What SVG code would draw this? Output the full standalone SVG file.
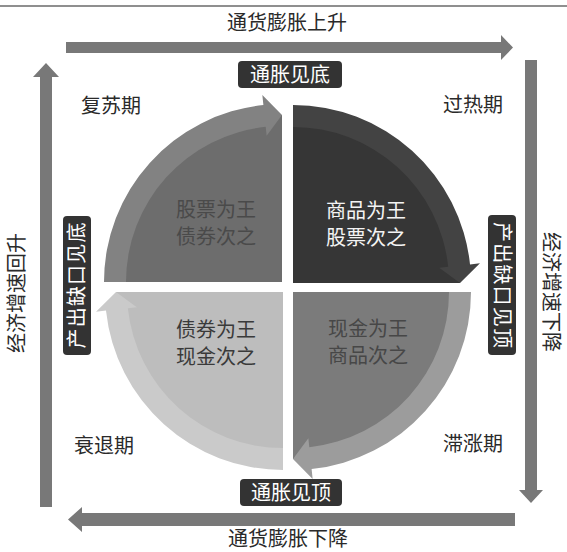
<svg xmlns="http://www.w3.org/2000/svg" width="567" height="552" viewBox="0 0 567 552">
<defs>
<style>
text{font-family:"Noto Sans CJK SC","Noto Sans CJK TC",sans-serif;}
.t{font-size:20px;fill:#2a2a2a;text-anchor:middle;}
.q{font-size:20px;text-anchor:middle;}
.w{font-size:20px;fill:#ffffff;text-anchor:middle;}
.box{fill:#333333;}
.arr{fill:#787878;}
</style>
<path id="ring" d="M-178,0 A178,178 0 0 1 -18.61,-177.02 L-19.65,-186.97 L0,-167 L-15.37,-146.19 L-16.31,-155.15 A156,156 0 0 0 -156,0 Z"/>
<path id="body" d="M0,0 L-167,0 A167,167 0 0 1 0,-167 Z"/>
</defs>
<rect width="567" height="552" fill="#ffffff"/>
<line x1="0" y1="6" x2="567" y2="6" stroke="#6a6a6a" stroke-width="1.5"/>

<g id="connectors">
<polygon class="arr" points="66,42 501,42 501,35 513,47.5 501,60 501,53 66,53"/>
<polygon class="arr" points="525,60 537,60 537,490 543,490 531,503 519,490 525,490"/>
<polygon class="arr" points="515,513 515,526 82,526 82,532 68,519.5 82,507 82,513"/>
<polygon class="arr" points="40,507 52,507 52,77 59,77 46,63 33,77 40,77"/>
</g>

<g id="q-tl">
<use href="#body" transform="translate(282,282)" fill="#6d6d6d"/>
<use href="#ring" transform="translate(282,282)" fill="#828282"/>
<text class="q" x="216" y="217" fill="#4a4a4a">股票为王</text>
<text class="q" x="216" y="244" fill="#4a4a4a">债券次之</text>
</g>
<g id="q-tr">
<use href="#body" transform="translate(293,283) rotate(90)" fill="#363636"/>
<use href="#ring" transform="translate(293,283) rotate(90)" fill="#434343"/>
<text class="q" x="366" y="218" fill="#f4f4f4">商品为王</text>
<text class="q" x="366" y="245" fill="#f4f4f4">股票次之</text>
</g>
<g id="q-br">
<use href="#body" transform="translate(293,292) rotate(180)" fill="#7b7b7b"/>
<use href="#ring" transform="translate(293,292) rotate(180)" fill="#9c9c9c"/>
<text class="q" x="368" y="336" fill="#474747">现金为王</text>
<text class="q" x="368" y="363" fill="#474747">商品次之</text>
</g>
<g id="q-bl">
<use href="#body" transform="translate(283,292) rotate(270)" fill="#bdbdbd"/>
<use href="#ring" transform="translate(283,292) rotate(270)" fill="#cacaca"/>
<text class="q" x="216" y="337" fill="#3a3a3a">债券为王</text>
<text class="q" x="216" y="364" fill="#3a3a3a">现金次之</text>
</g>

<g id="title-top"><text class="t" x="287" y="30">通货膨胀上升</text></g>
<g id="title-bottom"><text class="t" x="288" y="546">通货膨胀下降</text></g>
<g id="title-left"><text class="t" transform="translate(17,293) rotate(-90)" x="0" y="7">经济增速回升</text></g>
<g id="title-right"><text class="t" transform="translate(551,292) rotate(90)" x="0" y="7">经济增速下降</text></g>

<g id="phase-recovery"><text class="t" x="111" y="113">复苏期</text></g>
<g id="phase-overheat"><text class="t" x="473" y="112">过热期</text></g>
<g id="phase-recession"><text class="t" x="104" y="453">衰退期</text></g>
<g id="phase-stagflation"><text class="t" x="473" y="451">滞涨期</text></g>

<g id="label-top">
<rect class="box" x="238" y="61" width="104" height="27" rx="4"/>
<text class="w" x="290" y="81.5">通胀见底</text>
</g>
<g id="label-bottom">
<rect class="box" x="240" y="479" width="102" height="27" rx="4"/>
<text class="w" x="291" y="499.5">通胀见顶</text>
</g>
<g id="label-left">
<rect class="box" x="63" y="216" width="28" height="139" rx="4"/>
<text class="w" transform="translate(77,285.5) rotate(-90)" x="0" y="7" textLength="126" lengthAdjust="spacing">产出缺口见底</text>
</g>
<g id="label-right">
<rect class="box" x="488" y="215" width="28" height="140" rx="4"/>
<text class="w" transform="translate(502,285) rotate(90)" x="0" y="7" textLength="126" lengthAdjust="spacing">产出缺口见顶</text>
</g>
</svg>
